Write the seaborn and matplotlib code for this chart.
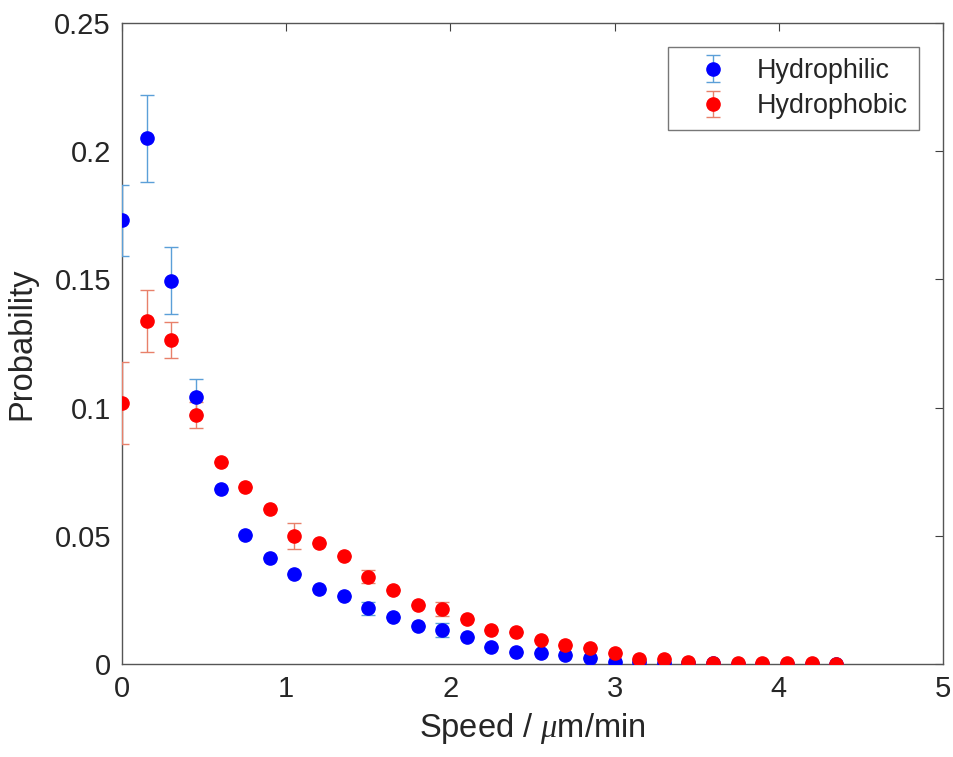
import numpy as np
import pandas as pd
import seaborn as sns
import matplotlib.pyplot as plt

# Data
speed = [0.0, 0.15, 0.3, 0.45, 0.6, 0.75, 0.9, 1.05, 1.2, 1.35,
         1.5, 1.65, 1.8, 1.95, 2.1, 2.25, 2.4, 2.55, 2.7, 2.85,
         3.0, 3.15, 3.3, 3.45, 3.6, 3.75, 3.9, 4.05, 4.2, 4.35]

hydrophilic = [0.173, 0.205, 0.1495, 0.104, 0.0684, 0.0505, 0.0414, 0.035, 0.0291, 0.0265,
               0.0217, 0.0184, 0.0148, 0.0132, 0.0106, 0.0065, 0.0045, 0.0042, 0.0035, 0.0025,
               0.0009, 0.0008, 0.0004, 0.0004, 0.0002, 0.0001, 0.0001, 0.0001, 0.0001, 0.0]
# error bars hidden under the markers are read as zero
hydrophilic_err = [0.014, 0.017, 0.013, 0.007, 0, 0, 0, 0, 0, 0,
                   0.0026, 0, 0, 0.0026, 0, 0, 0, 0, 0, 0,
                   0, 0, 0, 0, 0, 0, 0, 0, 0, 0]

hydrophobic = [0.1018, 0.1337, 0.1264, 0.0972, 0.0788, 0.069, 0.0606, 0.0498, 0.047, 0.042,
               0.034, 0.0288, 0.0232, 0.0214, 0.0175, 0.0132, 0.0126, 0.0093, 0.0074, 0.0061,
               0.0044, 0.0018, 0.002, 0.0009, 0.0005, 0.0003, 0.0003, 0.0002, 0.0002, 0.0001]
hydrophobic_err = [0.016, 0.012, 0.007, 0.005, 0, 0, 0, 0.005, 0, 0,
                   0.0026, 0, 0, 0.0026, 0, 0, 0, 0, 0, 0,
                   0, 0, 0, 0, 0, 0, 0, 0, 0, 0]

df = pd.DataFrame({
    'Speed': speed * 2,
    'Probability': hydrophilic + hydrophobic,
    'Err': hydrophilic_err + hydrophobic_err,
    'Surface': ['Hydrophilic'] * len(speed) + ['Hydrophobic'] * len(speed),
})

sns.set_theme(style='white')
plt.rcParams['font.family'] = ['Liberation Sans', 'DejaVu Sans']
plt.rcParams['mathtext.fontset'] = 'custom'
plt.rcParams['mathtext.it'] = 'Liberation Serif:italic'

fig = plt.figure(figsize=(9.54, 7.57), dpi=100)
ax = fig.add_axes([122 / 954, 1 - 664 / 757, (943 - 122) / 954, (664 - 23) / 757])

styles = {
    'Hydrophilic': dict(marker='#0000ff', bar='#5b9fd8'),
    'Hydrophobic': dict(marker='#ff0000', bar='#e8806a'),
}

for name, grp in df.groupby('Surface', sort=False):
    st = styles[name]
    ax.errorbar(grp['Speed'], grp['Probability'], yerr=grp['Err'],
                fmt='o', ms=9.5, mfc=st['marker'], mec=st['marker'],
                ecolor=st['bar'], elinewidth=1.0, capsize=5, capthick=1.0,
                label=name, zorder=3)

ax.set_xlim(0, 5)
ax.set_ylim(0, 0.25)
ax.set_xticks([0, 1, 2, 3, 4, 5])
ax.set_yticks([0, 0.05, 0.1, 0.15, 0.2, 0.25])
ax.set_yticklabels(['0', '0.05', '0.1', '0.15', '0.2', '0.25'])

ax.tick_params(direction='in', length=6, width=0.8, top=True, right=True,
               labelsize=21, colors='#404040', labelcolor='#262626', pad=8)
for sp in ax.spines.values():
    sp.set_color('#555555')
    sp.set_linewidth(1.0)

ax.set_xlabel('Speed / $\\mu$m/min', fontsize=23.5, color='#262626', labelpad=6)
ax.set_ylabel('Probability', fontsize=23.5, color='#262626', labelpad=12)

leg = ax.legend(loc='upper right', fontsize=19.4, frameon=True, fancybox=False,
                edgecolor='#555555', handlelength=2.5, handletextpad=0.4,
                labelspacing=0.35, borderaxespad=0.9, borderpad=0.4)
leg.get_frame().set_linewidth(1.0)

fig.savefig('out.png', dpi=100)
